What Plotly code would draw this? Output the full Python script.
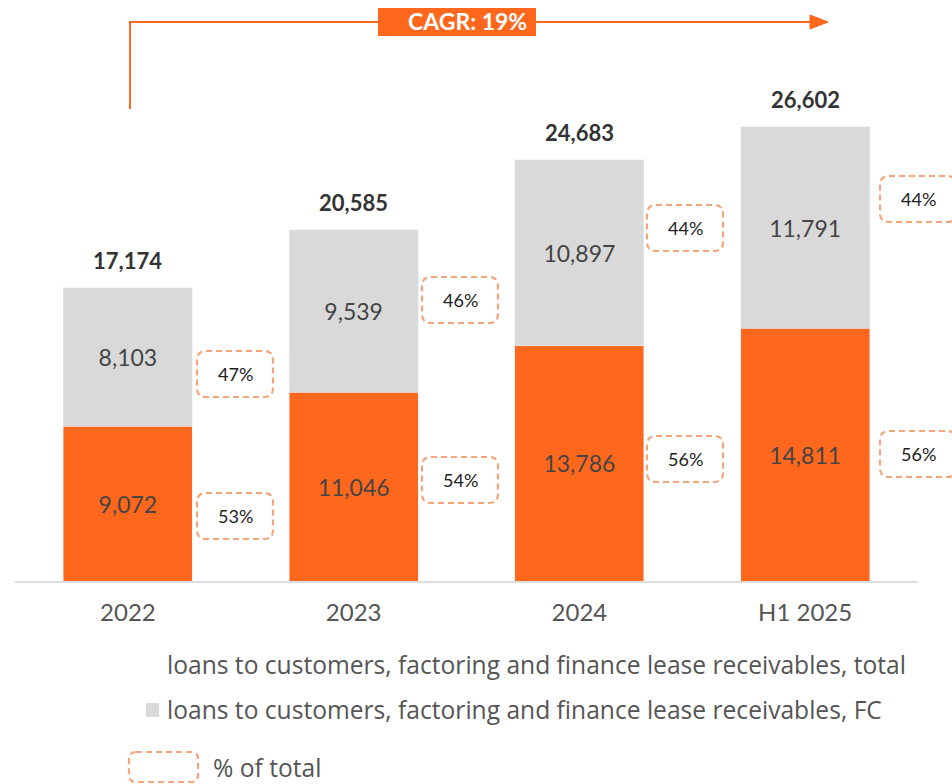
import plotly.graph_objects as go

categories = ["2022", "2023", "2024", "H1 2025"]
fc_values = [9072, 11046, 13786, 14811]
other_values = [8103, 9539, 10897, 11791]
totals = [17174, 20585, 24683, 26602]
pct_upper = ["47%", "46%", "44%", "44%"]
pct_lower = ["53%", "54%", "56%", "56%"]
cagr_label = "CAGR: 19%"
legend_labels = [
    "loans to customers, factoring and finance lease receivables, total",
    "loans to customers, factoring and finance lease receivables, FC",
    "% of total",
]

ORANGE = "#FF671D"
GRAY = "#D9D9D9"
BOX = "#F5A57A"
FONT = "Lato"
LFONT = "Open Sans"

W, H = 952, 784
ML, MR, MT, MB = 15, 34, 0, 203
PW, PH = W - ML - MR, H - MT - MB
PX_PER_UNIT = 0.01707
YMAX = PH / PX_PER_UNIT

def px_x(px):
    return (px - ML) / PW

def px_y(py):
    return (H - MB - py) / PH

xs = list(range(len(categories)))

fig = go.Figure()
fig.add_bar(x=xs, y=fc_values, marker_color=ORANGE, width=0.572,
            text=[f"{v:,}" for v in fc_values], textposition="inside",
            insidetextanchor="middle", textangle=0,
            textfont=dict(family=FONT, size=23, color="#444444"), name=legend_labels[0])
fig.add_bar(x=xs, y=other_values, marker_color=GRAY, width=0.572,
            text=[f"{v:,}" for v in other_values], textposition="inside",
            insidetextanchor="middle", textangle=0,
            textfont=dict(family=FONT, size=23, color="#444444"), name=legend_labels[1])

annotations = []
shapes = []
for i, t in enumerate(totals):
    annotations.append(dict(x=xs[i], y=t, yshift=27, text=f"<b>{t:,}</b>", showarrow=False,
                            xanchor="center", yanchor="middle",
                            font=dict(family=FONT, size=22, color="#333333")))

# percent boxes (layout positions in pixels)
box_cx = [235, 460, 685, 918]
box_up_cy = [374, 300, 228, 199]
box_lo_cy = [516, 480, 459, 454]
bw, bh, r = 76, 46, 9

def rounded_path(x0, y0, x1, y1, r):
    X = lambda v: px_x(v)
    Y = lambda v: px_y(v)
    return (f"M {X(x0+r)},{Y(y0)} L {X(x1-r)},{Y(y0)} Q {X(x1)},{Y(y0)} {X(x1)},{Y(y0+r)} "
            f"L {X(x1)},{Y(y1-r)} Q {X(x1)},{Y(y1)} {X(x1-r)},{Y(y1)} "
            f"L {X(x0+r)},{Y(y1)} Q {X(x0)},{Y(y1)} {X(x0)},{Y(y1-r)} "
            f"L {X(x0)},{Y(y0+r)} Q {X(x0)},{Y(y0)} {X(x0+r)},{Y(y0)} Z")

for i in range(len(categories)):
    for cy, lab in ((box_up_cy[i], pct_upper[i]), (box_lo_cy[i], pct_lower[i])):
        cx = box_cx[i]
        shapes.append(dict(type="path", xref="paper", yref="paper",
                           path=rounded_path(cx - bw / 2, cy - bh / 2, cx + bw / 2, cy + bh / 2, r),
                           line=dict(color=BOX, width=2.2, dash="6px,4px")))
        annotations.append(dict(x=px_x(cx), y=px_y(cy), xref="paper", yref="paper", text=lab,
                                xanchor="center", yanchor="middle",
                                showarrow=False, font=dict(family=FONT, size=18, color="#222222")))

# CAGR arrow
shapes.append(dict(type="line", xref="paper", yref="paper", x0=px_x(130), x1=px_x(130),
                   y0=px_y(109), y1=px_y(22), line=dict(color=ORANGE, width=2)))
shapes.append(dict(type="line", xref="paper", yref="paper", x0=px_x(129), x1=px_x(814),
                   y0=px_y(22), y1=px_y(22), line=dict(color=ORANGE, width=2)))
shapes.append(dict(type="path", xref="paper", yref="paper",
                   path=f"M {px_x(810)},{px_y(15)} L {px_x(828)},{px_y(22)} L {px_x(810)},{px_y(29)} Z",
                   fillcolor=ORANGE, line=dict(color=ORANGE, width=1)))
shapes.append(dict(type="rect", xref="paper", yref="paper", x0=px_x(378), x1=px_x(536),
                   y0=px_y(36), y1=px_y(8), fillcolor=ORANGE, line=dict(width=0)))
annotations.append(dict(x=px_x(467), y=px_y(21), xref="paper", yref="paper", text=f"<b>{cagr_label}</b>",
                        xanchor="center", yanchor="middle",
                        showarrow=False, font=dict(family=FONT, size=23, color="white")))

# custom legend
annotations.append(dict(x=px_x(165), y=px_y(664), xref="paper", yref="paper", xanchor="left",
                        yanchor="middle", text=legend_labels[0], showarrow=False,
                        font=dict(family=LFONT, size=24.6, color="#555555")))
shapes.append(dict(type="rect", xref="paper", yref="paper", x0=px_x(146), x1=px_x(159),
                   y0=px_y(717), y1=px_y(703), fillcolor=GRAY, line=dict(width=0)))
annotations.append(dict(x=px_x(165), y=px_y(709), xref="paper", yref="paper", xanchor="left",
                        yanchor="middle", text=legend_labels[1], showarrow=False,
                        font=dict(family=LFONT, size=24.6, color="#555555")))
shapes.append(dict(type="path", xref="paper", yref="paper",
                   path=rounded_path(129, 752, 198, 782, 7),
                   line=dict(color=BOX, width=2.2, dash="6px,4px")))
annotations.append(dict(x=px_x(211), y=px_y(768), xref="paper", yref="paper", xanchor="left",
                        yanchor="middle", text=legend_labels[2], showarrow=False,
                        font=dict(family=LFONT, size=24.6, color="#555555")))

fig.update_layout(
    barmode="stack", width=W, height=H, showlegend=False,
    margin=dict(l=ML, r=MR, t=MT, b=MB),
    plot_bgcolor="white", paper_bgcolor="white",
    annotations=annotations, shapes=shapes,
    font=dict(family=FONT),
    uniformtext=dict(mode="show", minsize=10),
)
fig.update_xaxes(range=[-0.5, 3.5], tickvals=xs, ticktext=categories, showgrid=False,
                 showline=True, linecolor="#DDDDDD", linewidth=2, ticks="", zeroline=False,
                 tickfont=dict(family=FONT, size=24, color="#555555"), ticklabelstandoff=9)
fig.update_yaxes(range=[0, YMAX], visible=False, showgrid=False, zeroline=False)

fig.write_html("out.html", config={"displayModeBar": False},
               post_script="document.body.style.margin='0';document.body.style.overflow='hidden';")
